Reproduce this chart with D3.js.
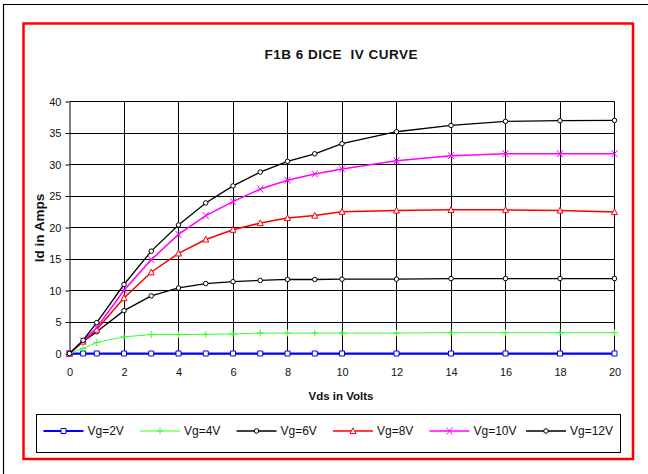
<!DOCTYPE html>
<html>
<head>
<meta charset="utf-8">
<script src="https://cdn.jsdelivr.net/npm/d3@7"></script>
<style>
  body { margin: 0; background: #fff; }
  svg { display: block; font-family: Arial, "Liberation Sans", sans-serif; }
</style>
</head>
<body>
<svg id="chart" width="648" height="474"></svg>
<script>
// Vds sample points (volts)
var vds = [0, 0.5, 1, 2, 3, 4, 5, 6, 7, 8, 9, 10, 12, 14, 16, 18, 20];

// Id (amps) for each gate voltage
var vg2  = [0, 0, 0, 0, 0, 0, 0, 0, 0, 0, 0, 0, 0, 0, 0, 0, 0];
var vg4  = [0, 0.8, 1.75, 2.65, 3.0, 3.0, 3.05, 3.1, 3.25, 3.25, 3.25, 3.25, 3.25, 3.3, 3.3, 3.3, 3.3];
var vg6  = [0, 1.9, 3.45, 6.8, 9.15, 10.4, 11.1, 11.4, 11.6, 11.75, 11.75, 11.8, 11.8, 11.9, 11.9, 11.9, 11.9];
var vg8  = [0, 1.9, 3.8, 8.8, 12.9, 15.9, 18.1, 19.65, 20.7, 21.5, 21.9, 22.5, 22.7, 22.8, 22.8, 22.7, 22.45];
var vg10 = [0, 2.0, 4.1, 10.05, 14.9, 18.9, 21.9, 24.1, 26.1, 27.5, 28.5, 29.3, 30.6, 31.4, 31.7, 31.7, 31.7];
var vg12 = [0, 2.1, 4.9, 10.95, 16.25, 20.4, 23.9, 26.6, 28.8, 30.5, 31.7, 33.3, 35.2, 36.2, 36.85, 36.95, 37.0];

var seriesNames = ["Vg=2V", "Vg=4V", "Vg=6V", "Vg=8V", "Vg=10V", "Vg=12V"];
var xTicks = [0, 2, 4, 6, 8, 10, 12, 14, 16, 18, 20];
var yTicks = [0, 5, 10, 15, 20, 25, 30, 35, 40];

function draw() {
  var series = [
    { name: seriesNames[0], values: vg2,  color: "#0000ff", width: 2,   marker: "square" },
    { name: seriesNames[1], values: vg4,  color: "#33ff33", width: 1,   marker: "plus" },
    { name: seriesNames[2], values: vg6,  color: "#000000", width: 1.3, marker: "circle" },
    { name: seriesNames[3], values: vg8,  color: "#ff0000", width: 1.5, marker: "triangle" },
    { name: seriesNames[4], values: vg10, color: "#ff00ff", width: 1.5, marker: "cross" },
    { name: seriesNames[5], values: vg12, color: "#000000", width: 1.3, marker: "circle" }
  ];

  var svg = d3.select("#chart");

  // frame edges (top and left only, as in the capture)
  svg.append("line").attr("x1", 3).attr("x2", 648).attr("y1", 4.5).attr("y2", 4.5)
    .attr("stroke", "#000").attr("stroke-width", 1.2);
  svg.append("line").attr("x1", 3.5).attr("x2", 3.5).attr("y1", 4).attr("y2", 474)
    .attr("stroke", "#000").attr("stroke-width", 1.2);

  // red chart border
  svg.append("rect")
    .attr("x", 23.5).attr("y", 23.5).attr("width", 609.5).attr("height", 435.5)
    .attr("fill", "none").attr("stroke", "#ff0000").attr("stroke-width", 2.5);

  var plotLeft = 69.5, plotRight = 614.5, plotTop = 101.5, plotBottom = 353.5;

  var x = d3.scaleLinear().domain([0, 20]).range([plotLeft, plotRight]);
  var y = d3.scaleLinear().domain([0, 40]).range([plotBottom, plotTop]);

  function px(v) { return Math.round(v - 0.5) + 0.5; }

  // title
  svg.append("text")
    .attr("x", 341).attr("y", 58.5)
    .attr("text-anchor", "middle")
    .attr("font-size", 13.5).attr("font-weight", "bold")
    .attr("fill", "#111")
    .attr("textLength", 153).attr("lengthAdjust", "spacing")
    .style("white-space", "pre")
    .text("F1B 6 DICE  IV CURVE");

  // gridlines
  var grid = svg.append("g").attr("stroke", "#000").attr("stroke-width", 1);
  grid.selectAll(".hg").data(yTicks.filter(function (d) { return d > 0; }))
    .enter().append("line")
    .attr("x1", plotLeft).attr("x2", plotRight)
    .attr("y1", function (d) { return px(y(d)); })
    .attr("y2", function (d) { return px(y(d)); });
  grid.selectAll(".vg").data(xTicks.filter(function (d) { return d > 0; }))
    .enter().append("line")
    .attr("y1", plotTop).attr("y2", plotBottom)
    .attr("x1", function (d) { return px(x(d)); })
    .attr("x2", function (d) { return px(x(d)); });

  // axes
  var yAxis = svg.append("g")
    .attr("transform", "translate(" + plotLeft + ",0)")
    .call(d3.axisLeft(y).tickValues(yTicks).tickSize(4).tickPadding(4).tickSizeOuter(0));
  var xAxis = svg.append("g")
    .attr("transform", "translate(0," + plotBottom + ")")
    .call(d3.axisBottom(x).tickValues(xTicks).tickSize(0).tickPadding(15).tickSizeOuter(0));

  [yAxis, xAxis].forEach(function (a) {
    a.selectAll("path").attr("stroke", "#000").attr("stroke-width", 1);
    a.selectAll("line").attr("stroke", "#000");
    a.selectAll("text").attr("font-size", 11).attr("fill", "#111")
      .attr("font-family", "Arial, 'Liberation Sans', sans-serif");
  });

  // axis titles
  svg.append("text")
    .attr("x", 341).attr("y", 400)
    .attr("text-anchor", "middle")
    .attr("font-size", 11.5).attr("font-weight", "bold").attr("fill", "#111")
    .text("Vds in Volts");
  svg.append("text")
    .attr("transform", "translate(43.5,228) rotate(-90)")
    .attr("text-anchor", "middle")
    .attr("font-size", 13.5).attr("font-weight", "bold").attr("fill", "#111")
    .text("Id in Amps");

  // marker paths
  function markerPath(type) {
    if (type === "square") return "M-2.5,-2.5H2.5V2.5H-2.5Z";
    if (type === "plus") return "M-3.5,0H3.5M0,-3.5V3.5";
    if (type === "cross") return "M-3,-3.5L3,3.5M-3,3.5L3,-3.5";
    if (type === "triangle") return "M0,-3.2L3,2.6H-3Z";
    return d3.symbol(d3.symbolCircle, 16)();
  }

  var line = d3.line()
    .x(function (d, i) { return x(vds[i]); })
    .y(function (d) { return y(d); });

  series.forEach(function (s) {
    var g = svg.append("g");
    g.append("path")
      .datum(s.values)
      .attr("d", line)
      .attr("fill", "none")
      .attr("stroke", s.color)
      .attr("stroke-width", s.width);
    g.selectAll("path.m")
      .data(s.values)
      .enter().append("path")
      .attr("class", "m")
      .attr("transform", function (d, i) { return "translate(" + x(vds[i]) + "," + y(d) + ")"; })
      .attr("d", markerPath(s.marker))
      .attr("fill", (s.marker === "plus" || s.marker === "cross") ? "none" : "#fff")
      .attr("stroke", s.color)
      .attr("stroke-width", 1);
  });

  // legend
  var legend = svg.append("g");
  legend.append("rect")
    .attr("x", 36.5).attr("y", 414.5).attr("width", 584).attr("height", 38)
    .attr("fill", "#fff").attr("stroke", "#000").attr("stroke-width", 1);

  var item = legend.selectAll("g.item")
    .data(series)
    .enter().append("g")
    .attr("class", "item")
    .attr("transform", function (d, i) { return "translate(" + (43.5 + i * 96.5) + ",431)"; });
  item.append("line")
    .attr("x1", 0).attr("x2", 40).attr("y1", 0).attr("y2", 0)
    .attr("stroke", function (d) { return d.color; })
    .attr("stroke-width", function (d) { return d.width; });
  item.append("path")
    .attr("transform", "translate(20,0)")
    .attr("d", function (d) { return markerPath(d.marker); })
    .attr("fill", function (d) { return (d.marker === "plus" || d.marker === "cross") ? "none" : "#fff"; })
    .attr("stroke", function (d) { return d.color; })
    .attr("stroke-width", 1);
  item.append("text")
    .attr("x", 44).attr("y", 4.3)
    .attr("font-size", 12).attr("fill", "#111")
    .text(function (d) { return d.name; });
}

draw();
</script>
</body>
</html>
